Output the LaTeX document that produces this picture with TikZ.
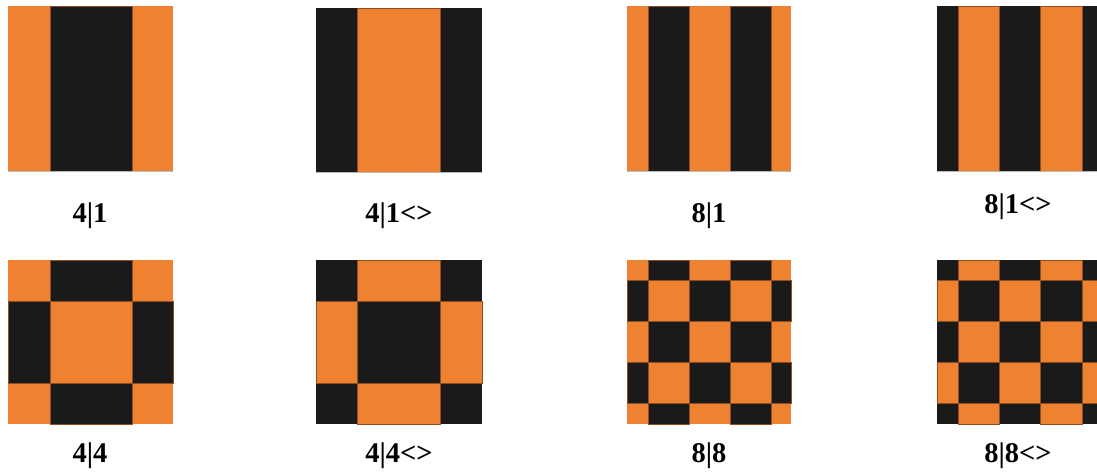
\documentclass[tikz,border=0pt]{standalone}
\usepackage{fontspec}
\setmainfont{Liberation Serif}
\usepackage{xcolor}
\usepackage{tikz}
\definecolor{patorange}{HTML}{EE8230}
\definecolor{patblack}{HTML}{1A1A1A}
\definecolor{patedge}{HTML}{8C4E22}

\begin{document}
\begin{tikzpicture}[
  x=1pt, y=-1pt,
  font=\fontsize{28.5}{33}\selectfont\bfseries,
  patname/.style={anchor=base, inner sep=0pt},
  tile/.style={draw=patedge, line width=0.4pt, even odd rule},
  seam/.style={draw=gray!55, line width=1pt}
]
\useasboundingbox (0,0) rectangle (1097,472);
% top row: stripes only
\fill[patorange] (8,6) rectangle (173,171);
\path[tile, fill=patblack] (50,6) rectangle (132,171);
\draw[seam] (8,171) -- (173,171);
\fill[patblack] (316,8) rectangle (482,172);
\path[tile, fill=patorange] (357,8) rectangle (440,172);
\draw[seam] (316,172) -- (482,172);
\fill[patorange] (627,6) rectangle (791,171);
\path[tile, fill=patblack] (648,6) rectangle (689,171) (730,6) rectangle (771,171);
\draw[seam] (627,171) -- (791,171);
\fill[patblack] (937,6) rectangle (1097,171);
\path[tile, fill=patorange] (958,6) rectangle (999,171) (1040,6) rectangle (1082,171);
\draw[seam] (937,171) -- (1097,171);
% bottom row: columns xor rows
\fill[patorange] (8,260) rectangle (173,424);
\path[tile, fill=patblack] (50,260) rectangle (132,424) (8,301) rectangle (173,383);
\fill[patblack] (316,260) rectangle (482,424);
\path[tile, fill=patorange] (357,260) rectangle (440,424) (316,301) rectangle (482,383);
\fill[patorange] (627,260) rectangle (791,424);
\path[tile, fill=patblack] (648,260) rectangle (689,424) (730,260) rectangle (771,424)
  (627,280) rectangle (791,321) (627,362) rectangle (791,403);
\fill[patblack] (937,260) rectangle (1097,424);
\path[tile, fill=patorange] (958,260) rectangle (999,424) (1040,260) rectangle (1082,424)
  (937,280) rectangle (1097,321) (937,362) rectangle (1097,403);
% names
\node[patname] (n41)  at (90,222)   {4|1};
\node[patname] (n41r) at (399,222)  {4|1<>};
\node[patname] (n81)  at (709,222)  {8|1};
\node[patname] (n81r) at (1018,213) {8|1<>};
\node[patname] (n44)  at (90,462)   {4|4};
\node[patname] (n44r) at (399,462)  {4|4<>};
\node[patname] (n88)  at (709,462)  {8|8};
\node[patname] (n88r) at (1018,462) {8|8<>};
\end{tikzpicture}
\end{document}
